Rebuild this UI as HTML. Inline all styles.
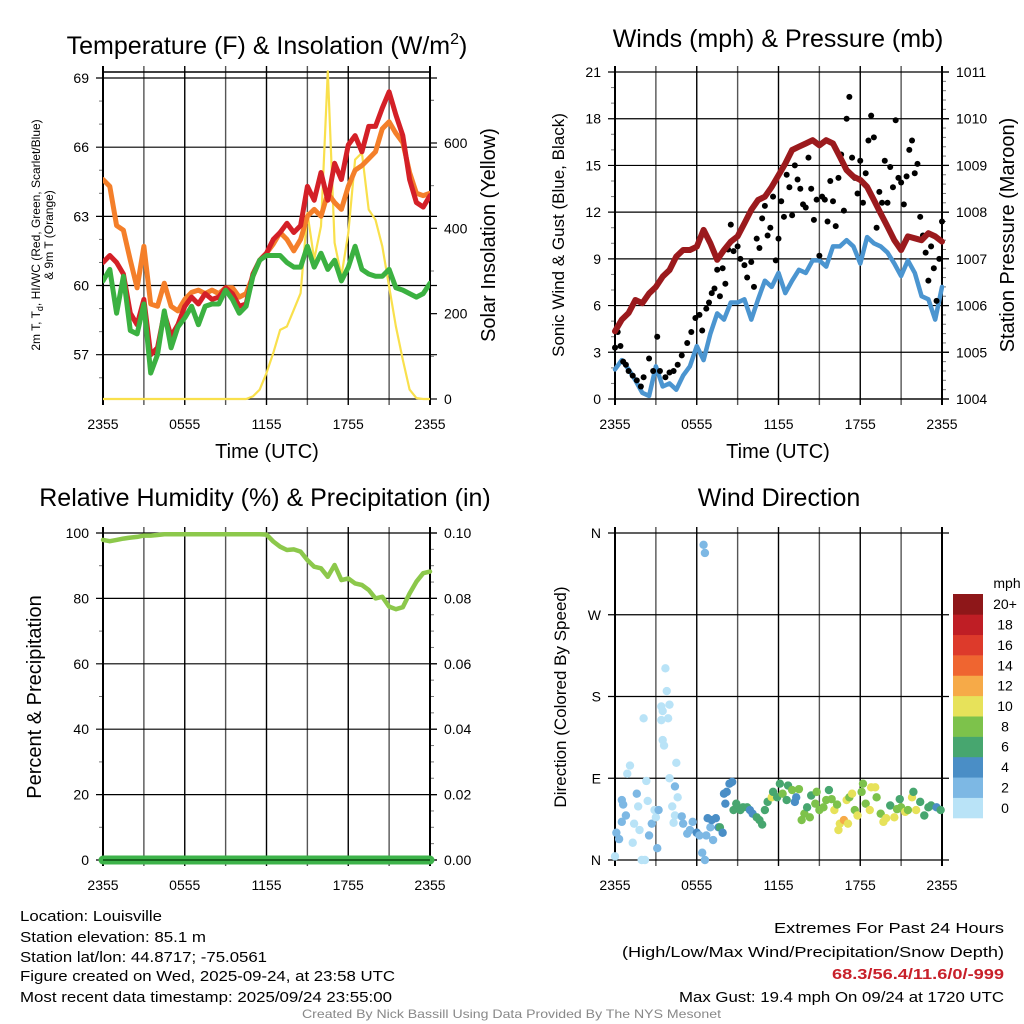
<!DOCTYPE html>
<html><head><meta charset="utf-8"><style>
html,body{margin:0;padding:0;background:#fff}
svg{display:block;font-family:"Liberation Sans",Arial,sans-serif}
</style></head><body>
<svg id="chart" width="1024" height="1024" viewBox="0 0 1024 1024"></svg>
<script>
// ---------- DATA ----------
const hours30 = [0,0.5,1,1.5,2,2.5,3,3.5,4,4.5,5,5.5,6,6.5,7,7.5,8,8.5,9,9.5,10,10.5,11,11.5,12,12.5,13,13.5,14,14.5,15,15.5,16,16.5,17,17.5,18,18.5,19,19.5,20,20.5,21,21.5,22,22.5,23,23.5,24];
const xTickLabels = ["2355","0555","1155","1755","2355"];
const tempTicks = [57,60,63,66,69];
const solarTicks = [0,200,400,600];
const temp9m = [64.6,64.3,62.6,62.4,61.1,59.9,61.7,59.2,59.1,60.1,59.1,58.9,59.4,59.7,59.8,59.65,59.8,59.65,59.9,59.9,59.5,59.65,60.4,61.1,61.4,61.8,62.3,62.0,61.5,62.0,63.0,63.3,63.0,64.0,63.6,63.3,64.3,65.0,65.2,65.5,65.8,66.8,67.1,66.6,66.2,64.9,64.0,63.9,64.0];
const temp2m = [61.0,61.3,61.0,60.5,58.8,58.3,59.4,57.0,57.3,58.8,57.8,58.3,59.1,59.5,59.2,59.65,59.4,59.5,59.9,59.65,59.1,59.2,60.5,61.1,61.4,62.0,62.3,62.7,62.3,62.6,64.3,63.7,64.9,63.7,65.3,64.6,66.1,66.5,65.8,66.9,66.9,67.7,68.4,67.4,66.5,64.6,63.6,63.4,63.9];
const dewpt = [60.2,60.7,58.8,60.4,58.05,57.9,59.2,56.2,57.0,58.9,57.3,58.2,58.6,59.1,58.3,59.1,59.2,59.2,59.8,59.4,58.8,59.1,60.4,61.1,61.3,61.3,61.3,61.0,60.8,60.8,61.7,60.8,61.4,60.7,61.1,60.2,60.8,61.7,60.7,60.5,60.4,60.4,60.7,59.9,59.8,59.65,59.5,59.65,60.1];
const solar = [0,0,0,0,0,0,0,0,0,0,0,0,0,0,0,0,0,0,0,0,0,0,6,22,61,108,162,170,209,248,436,327,405,768,366,288,389,561,577,444,420,358,264,170,92,22,2,0,0];
const windTicks = [0,3,6,9,12,15,18,21];
const presTicks = [1004,1005,1006,1007,1008,1009,1010,1011];
const pressure = [1005.45,1005.7,1005.84,1006.12,1006.05,1006.26,1006.4,1006.62,1006.76,1007.05,1007.19,1007.19,1007.26,1007.62,1007.33,1006.98,1007.19,1007.37,1007.48,1007.76,1008.05,1008.26,1008.33,1008.54,1008.79,1009.04,1009.33,1009.4,1009.47,1009.54,1009.43,1009.54,1009.47,1009.19,1008.9,1008.76,1008.69,1008.54,1008.26,1007.97,1007.69,1007.4,1007.19,1007.48,1007.44,1007.4,1007.55,1007.48,1007.37];
const windSpeed = [1.9,2.5,1.9,1.2,0.4,0.2,2.1,0.8,1.0,0.6,1.5,2.1,3.4,2.5,4.2,5.5,5.1,6.2,6.2,6.4,5.1,6.4,7.6,7.2,8.1,6.8,7.6,8.3,8.1,8.9,8.9,8.5,9.8,9.8,10.2,9.8,8.7,10.4,10.0,9.8,9.4,8.7,7.9,8.9,8.1,6.6,6.4,5.1,7.2];
const gustHours = [0,0.2,0.4,0.6,0.8,1.0,1.3,1.6,1.9,2.1,2.5,2.8,3.1,3.3,3.7,4.0,4.3,4.6,4.9,5.3,5.6,5.9,6.2,6.4,6.7,6.9,7.1,7.3,7.5,7.7,7.9,8.1,8.3,8.5,8.7,9.0,9.2,9.5,9.7,10.0,10.2,10.4,10.6,10.8,11.0,11.2,11.4,11.6,11.8,12.0,12.2,12.4,12.6,12.8,13.0,13.2,13.4,13.6,13.8,14.0,14.2,14.4,14.6,14.8,15.0,15.2,15.4,15.6,15.8,16.0,16.2,16.4,16.6,16.8,17.0,17.2,17.4,17.6,17.8,18.0,18.2,18.4,18.6,18.8,19.0,19.2,19.4,19.6,19.8,20.0,20.2,20.4,20.6,20.8,21.0,21.2,21.4,21.6,21.8,22.0,22.2,22.4,22.6,22.8,23.0,23.2,23.4,23.6,23.8,24.0];
const gustSpeed = [3.3,4.3,3.4,2.4,2.2,1.8,1.5,1.2,0.8,1.4,2.6,1.8,4.0,1.8,1.4,1.7,1.8,2.2,2.8,3.6,4.3,5.2,5.4,4.4,5.8,6.2,6.8,7.1,8.3,6.6,8.4,7.4,9.6,11.2,9.5,9.8,9.0,8.6,7.8,8.8,7.2,10.3,9.7,11.6,12.4,10.5,11.0,13.0,8.9,10.3,12.7,11.7,14.4,13.6,11.8,15.0,14.1,13.5,12.5,12.3,15.5,13.5,11.5,12.8,9.2,13.0,12.8,11.4,14.0,12.7,11.1,14.2,15.7,12.1,18.0,19.4,15.5,14.2,13.2,15.3,12.6,14.5,16.6,18.2,16.8,11.0,13.3,12.6,15.3,12.6,14.9,13.6,17.9,14.2,13.9,12.5,14.3,16.0,16.6,14.5,15.1,11.7,10.5,9.4,7.6,9.8,8.4,6.3,9.0,11.4];
const rhTicks = [0,20,40,60,80,100];
const precipTicks = ["0.00","0.02","0.04","0.06","0.08","0.10"];
const relHum = [97.9,97.5,97.9,98.3,98.6,98.8,99.2,99.2,99.4,99.6,99.6,99.6,99.6,99.6,99.6,99.6,99.6,99.6,99.6,99.6,99.6,99.6,99.6,99.6,99.5,97.4,95.8,94.8,95.0,94.3,91.7,89.7,89.2,86.6,90.2,85.6,86.1,84.6,84.1,82.6,80.0,80.5,77.5,76.7,77.3,81.5,85.1,87.7,88.2];
const precip = [0,0,0,0,0,0,0,0,0,0,0,0,0,0,0,0,0,0,0,0,0,0,0,0,0,0,0,0,0,0,0,0,0,0,0,0,0,0,0,0,0,0,0,0,0,0,0,0,0];
const dirTicks = ["N","E","S","W","N"];
const dirHours = [0,0.1,0.3,0.5,0.5,0.6,0.8,0.9,1.1,1.3,1.4,1.6,1.7,1.8,1.96,2.1,2.2,2.3,2.4,2.5,2.7,2.9,3.0,3.1,3.2,3.4,3.4,3.5,3.5,3.6,3.7,3.8,3.9,4.0,4.0,4.2,4.3,4.4,4.4,4.5,4.6,4.9,5.0,5.3,5.5,5.7,6.0,6.2,6.4,6.5,6.6,6.6,6.7,6.8,7.0,7.1,7.2,7.4,7.6,7.7,7.9,8.0,8.1,8.2,8.4,8.6,8.7,8.9,9.2,9.4,9.7,9.9,10.1,10.4,10.6,10.8,11.0,11.2,11.5,11.6,11.9,12.1,12.3,12.6,12.7,13.0,13.2,13.3,13.5,13.7,13.9,14.1,14.3,14.4,14.7,14.8,15.0,15.3,15.5,15.7,15.9,16.1,16.3,16.5,16.4,16.8,17.0,17.1,17.2,17.4,17.6,17.8,18.1,18.2,18.4,18.7,18.8,19.1,19.2,19.5,19.7,19.9,20.2,20.5,20.7,20.9,21.0,21.3,21.5,21.8,21.9,22.1,22.4,22.7,23.0,23.2,23.6,23.9];
const dirDeg = [4,30,23,42,66,61,49,95,104,19,40,73,59,33,0,156,0,87,65,27,40,55,47,13,55,169,154,164,132,126,211,186,156,171,90,59,41,49,81,107,69,48,40,29,33,42,30,27,8,347,338,0,27,46,36,44,22,46,36,36,30,73,62,75,84,86,55,62,55,58,58,55,51,47,44,39,55,64,69,75,69,84,73,66,82,77,64,69,78,44,51,58,47,71,62,75,55,58,66,77,67,55,61,40,33,44,66,40,69,73,55,49,75,84,62,55,80,80,69,51,42,46,60,47,56,67,58,53,55,69,75,55,64,49,58,60,58,55];
const dirSpeed = [1,3,3,3,3,3,3,1,1,1,1,3,1,1,1,1,1,1,1,3,3,1,1,3,3,1,1,1,1,1,1,1,1,1,1,1,1,1,3,1,1,3,3,3,3,3,4.5,3,3,3,3,3,3,5,3,5,3,5,5,7,5,5,5,5,5,5,7,7,7,7,7,5,5,7,7,7,7,7,10.5,7,7,7,9,7,7,9,5,5,9,9,9,7,9,7,9,9,9,9,9,7,9,11,9,11,11,13,11,11,9,11,9,11,9,9,9,11,11,11,9,9,11,11,7,11,9,7,9,11,9,11,7,11,7,7,7,7,5,7];
const speedBins = ["0","2","4","6","8","10","12","14","16","18","20+"];
const speedColors = ["#b9e3f7","#7db8e4","#4a8ec6","#47a66f","#7dc24b","#e7e25a","#f6aa48","#ef6530","#dd3a2b","#bf1e25","#8e1719"];

// ---------- HELPERS ----------
const NS = "http://www.w3.org/2000/svg";
const svg = document.getElementById("chart");
function mk(tag, attrs, parent, text) {
  const e = document.createElementNS(NS, tag);
  for (const k in attrs) e.setAttribute(k, attrs[k]);
  if (text !== undefined) e.textContent = text;
  (parent || svg).appendChild(e);
  return e;
}
function linScale(d0, d1, r0, r1) { return v => r0 + (v - d0) / (d1 - d0) * (r1 - r0); }

const P = {
  tl: {x0:103, x1:430, y0:72, y1:399},
  tr: {x0:615, x1:942, y0:72, y1:399},
  bl: {x0:103, x1:430, y0:533, y1:860},
  br: {x0:615, x1:942, y0:533, y1:860}
};

function drawFrame(p, name, yTickPos, yLabels, rTickPos, rLabels, minorL, minorR) {
  const g = mk("g", {});
  
  
  for (let i = 0; i <= 8; i++) {
    const x = p.x0 + i * (p.x1 - p.x0) / 8;
    mk("line", {x1:x, x2:x, y1:p.y0 - 6, y2:p.y1 + 6, stroke: i % 2 ? "#555" : "#000", "stroke-width": 1.4}, g);
  }
  yTickPos.forEach((y, i) => {
    mk("line", {x1:p.x0 - 7, x2:p.x1 + 7, y1:y, y2:y, stroke:"#000", "stroke-width":1.2}, g);
    const t = mk("text", {x:p.x0 - 14, y:y + 5, "text-anchor":"end", "font-size":14, fill:"#000"}, g, yLabels[i]);
    
    
  });
  minorL.forEach(y => mk("line", {x1:p.x0 - 4, x2:p.x0, y1:y, y2:y, stroke:"#777", "stroke-width":1}, g));
  minorR.forEach(y => mk("line", {x1:p.x1, x2:p.x1 + 4, y1:y, y2:y, stroke:"#777", "stroke-width":1}, g));
  if (rTickPos) rTickPos.forEach((y, i) => {
    mk("line", {x1:p.x1, x2:p.x1 + 7, y1:y, y2:y, stroke:"#000", "stroke-width":1.2}, g);
    const t = mk("text", {x:p.x1 + 14, y:y + 5, "text-anchor":"start", "font-size":14, fill:"#000"}, g, rLabels[i]);
    
    
  });
  mk("line", {x1:p.x0, x2:p.x0, y1:p.y0 - 6, y2:p.y1 + 6, stroke:"#000", "stroke-width":2}, g);
  mk("line", {x1:p.x1, x2:p.x1, y1:p.y0 - 6, y2:p.y1 + 6, stroke:"#000", "stroke-width":2}, g);
  xTickLabels.forEach((lab, i) => {
    const x = p.x0 + i * (p.x1 - p.x0) / 4;
    const t = mk("text", {x:x, y:p.y1 + 30, "text-anchor":"middle", "font-size":14, fill:"#000"}, g, lab);
    
    
  });
}
function polyline(pts, color, w, name, parent) {
  const e = mk("polyline", {points: pts.map(p => p[0].toFixed(1) + "," + p[1].toFixed(1)).join(" "), fill:"none", stroke:color, "stroke-width":w, "stroke-linejoin":"round", "stroke-linecap":"round"}, parent);
  
  
  return e;
}
function title(x, y, txt, name, size) {
  const t = mk("text", {x:x, y:y, "text-anchor":"middle", "font-size":size || 22, fill:"#000"}, svg, txt);
  
  
  return t;
}
function vtitle(x, y, txt, name, size) {
  const t = mk("text", {x:x, y:y, "text-anchor":"middle", "font-size":size, fill:"#000", transform:"rotate(-90 " + x + " " + y + ")"}, svg, txt);
  
  
  return t;
}

// ---------- PANEL 1: TEMPERATURE ----------
(function(){
  const p = P.tl;
  const xs = linScale(0, 24, p.x0, p.x1);
  const ys = linScale(57, 69, 354.7, 78);
  const yr = linScale(0, 600, 399, 143);
  const minorL = [], minorR = [];
  for (let v = 56; v <= 69; v++) if (v % 3) minorL.push(ys(v));
  for (let v = 100; v <= 700; v += 100) if (v % 200) minorR.push(yr(v));
  minorR.push(yr(700));
  drawFrame(p, "temperature", tempTicks.map(ys), tempTicks.map(String), solarTicks.map(yr), solarTicks.map(String), minorL, minorR);
  mk("line", {x1:p.x0, x2:p.x1, y1:p.y0, y2:p.y0, stroke:"#000", "stroke-width":1.4});
  mk("line", {x1:p.x0, x2:p.x1, y1:p.y1, y2:p.y1, stroke:"#000", "stroke-width":1.2});
  const clip = mk("clipPath", {id:"c1"}); mk("rect", {x:p.x0, y:p.y0 - 3, width:p.x1 - p.x0, height:p.y1 - p.y0 + 6}, clip);
  const g = mk("g", {"clip-path":"url(#c1)"});
  polyline(hours30.map((h,i)=>[xs(h), yr(solar[i])]), "#f9e04c", 2.2, "solar-insolation-line", g);
  polyline(hours30.map((h,i)=>[xs(h), ys(temp9m[i])]), "#f47f2a", 5, "temp-9m-line", g);
  polyline(hours30.map((h,i)=>[xs(h), ys(temp2m[i])]), "#d42027", 5, "temp-2m-line", g);
  polyline(hours30.map((h,i)=>[xs(h), ys(dewpt[i])]), "#3bb141", 5, "dewpoint-line", g);
  const t = mk("text", {x:267, y:54, "text-anchor":"middle", "font-size":25, fill:"#000"});
  
  
  t.innerHTML = 'Temperature (F) &amp; Insolation (W/m<tspan dy="-10" font-size="16">2</tspan><tspan dy="10">)</tspan>';
  title(267, 458, "Time (UTC)", "temperature-x-title", 20);
  vtitle(495, 235, "Solar Insolation (Yellow)", "solar-y-title", 20);
  const l1 = mk("text", {x:40, y:235, "text-anchor":"middle", "font-size":12, fill:"#000", transform:"rotate(-90 40 235)"});
  
  
  l1.innerHTML = '2m T, T<tspan dy="3" font-size="9">d</tspan><tspan dy="-3">, HI/WC (Red, Green, Scarlet/Blue)</tspan>';
  vtitle(53, 235, "& 9m T (Orange)", "temperature-y-title-2", 12);
})();

// ---------- PANEL 2: WINDS ----------
(function(){
  const p = P.tr;
  const xs = linScale(0, 24, p.x0, p.x1);
  const ys = linScale(0, 21, 399, 72);
  const yp = linScale(1004, 1011, 399, 72);
  const minorL = [], minorR = [];
  for (let v = 1; v <= 21; v++) if (v % 3) minorL.push(ys(v));
  for (let v = 1004; v < 1011; v += 0.2) minorR.push(yp(v));
  drawFrame(p, "winds", windTicks.map(ys), windTicks.map(String), presTicks.map(yp), presTicks.map(String), minorL, minorR);
  mk("line", {x1:p.x0, x2:p.x1, y1:p.y1, y2:p.y1, stroke:"#000", "stroke-width":1.2});
  polyline(hours30.map((h,i)=>[xs(h), ys(windSpeed[i])]), "#4b95d0", 4.5, "wind-speed-line");
  const g = mk("g", {});
  
  
  gustHours.forEach((h, i) => {
    const c = mk("circle", {cx:xs(h), cy:ys(gustSpeed[i]), r:3, fill:"#000"}, g);
    
    
  });
  polyline(hours30.map((h,i)=>[xs(h), yp(pressure[i])]), "#9b1a1d", 6, "pressure-line");
  title(778, 47, "Winds (mph) & Pressure (mb)", "winds-title", 25);
  title(778, 458, "Time (UTC)", "winds-x-title", 20);
  vtitle(564, 235, "Sonic Wind & Gust (Blue, Black)", "wind-y-title", 17);
  vtitle(1014, 235, "Station Pressure (Maroon)", "pressure-y-title", 20);
})();

// ---------- PANEL 3: RH ----------
(function(){
  const p = P.bl;
  const xs = linScale(0, 24, p.x0, p.x1);
  const ys = linScale(0, 100, 860, 533);
  const yq = linScale(0, 0.10, 860, 533);
  const minorL = [], minorR = [];
  for (let v = 10; v < 100; v += 20) minorL.push(ys(v));
  for (let v = 0.005; v < 0.1; v += 0.005) minorR.push(yq(v));
  drawFrame(p, "humidity", rhTicks.map(ys), rhTicks.map(String), [0,0.02,0.04,0.06,0.08,0.10].map(yq), precipTicks, minorL, minorR);
  polyline(hours30.map((h,i)=>[xs(h), ys(relHum[i])]), "#8cc84b", 4.5, "relative-humidity-line");
  polyline(hours30.map((h,i)=>[xs(h), yq(precip[i])]), "#3db34a", 9, "precipitation-line");
  mk("line", {x1:p.x0, x2:p.x1, y1:p.y1, y2:p.y1, stroke:"#0a4d10", "stroke-width":1.5});
  title(265, 506, "Relative Humidity (%) & Precipitation (in)", "humidity-title", 25);
  vtitle(41, 697, "Percent & Precipitation", "humidity-y-title", 20);
})();

// ---------- PANEL 4: WIND DIRECTION ----------
(function(){
  const p = P.br;
  const xs = linScale(0, 24, p.x0, p.x1);
  const yd = linScale(0, 360, 860, 533);
  drawFrame(p, "direction", [0,90,180,270,360].map(yd), dirTicks, null, null, [], []);
  const g = mk("g", {});
  
  
  dirHours.forEach((h, i) => {
    const bin = Math.min(10, Math.floor(dirSpeed[i] / 2));
    const c = mk("circle", {cx:xs(h), cy:yd(dirDeg[i]), r:4.2, fill:speedColors[bin]}, g);
    
    
  });
  title(779, 506, "Wind Direction", "direction-title", 25);
  vtitle(566, 697, "Direction (Colored By Speed)", "direction-y-title", 17);
  const cb = mk("g", {});
  
  
  const top = 594, bot = 818, n = speedBins.length, h = (bot - top) / n;
  for (let i = 0; i < n; i++) {
    const y = bot - (i + 1) * h;
    const r = mk("rect", {x:953, y:y, width:30, height:h + 0.3, fill:speedColors[i]}, cb);
    
    
    const t = mk("text", {x:1005, y:y + h / 2 + 5, "text-anchor":"middle", "font-size":14, fill:"#000"}, cb, speedBins[i]);
    
    
  }
  const m = mk("text", {x:1007, y:588, "text-anchor":"middle", "font-size":14, fill:"#000"}, cb, "mph");
  
  
})();

// ---------- FOOTER ----------
(function(){
  const left = [["Location: Louisville",921,142],["Station elevation: 85.1 m",942,186],["Station lat/lon: 44.8717; -75.0561",962,247],["Figure created on Wed, 2025-09-24, at 23:58 UTC",981,375],["Most recent data timestamp: 2025/09/24 23:55:00",1002,372]];
  left.forEach(l => {
    const t = mk("text", {x:20, y:l[1], "font-size":15, fill:"#000", textLength:l[2], lengthAdjust:"spacingAndGlyphs"}, svg, l[0]);
    
    
  });
  const right = [["Extremes For Past 24 Hours",933,230,"#000","normal"],["(High/Low/Max Wind/Precipitation/Snow Depth)",957,382,"#000","normal"],["68.3/56.4/11.6/0/-999",979,172,"#c8202a","bold"],["Max Gust: 19.4 mph On 09/24 at 1720 UTC",1002,325,"#000","normal"]];
  right.forEach(l => {
    const t = mk("text", {x:1004 - l[2], y:l[1], "font-size":15, fill:l[3], "font-weight":l[4], textLength:l[2], lengthAdjust:"spacingAndGlyphs"}, svg, l[0]);
    
    
  });
  const c = mk("text", {x:302, y:1018, "font-size":12, fill:"#888", textLength:419, lengthAdjust:"spacingAndGlyphs"}, svg, "Created By Nick Bassill Using Data Provided By The NYS Mesonet");
  
  
})();
</script>
</body></html>
